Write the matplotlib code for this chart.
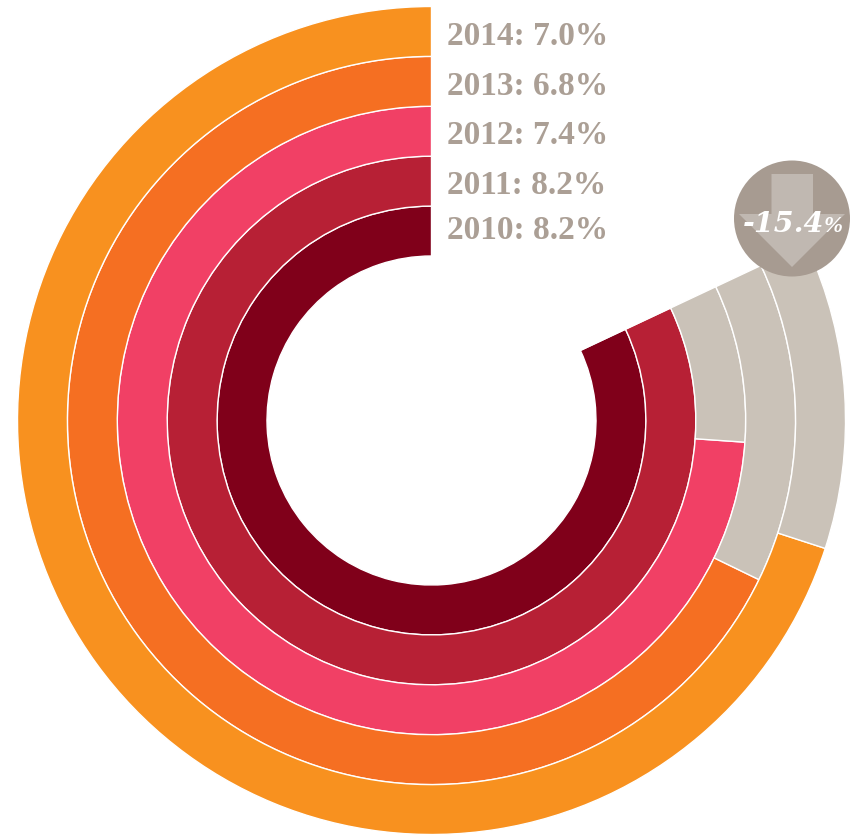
import matplotlib
matplotlib.use("Agg")
import matplotlib.pyplot as plt
from matplotlib.patches import Circle, Polygon

# Werte, innen nach aussen
years = ["2010", "2011", "2012", "2013", "2014"]
rates = [8.2, 8.2, 7.39, 6.78, 7.0]
colors = ["#80001a", "#b72035", "#f14065", "#f56f22", "#f8911f"]
change_label = "-15.4"
percent_sign = "%"

full_scale = 10.0  # 10% = ganzer Kreis
peak = max(rates)
grey = "#cac2b8"
text_grey = "#ab9f95"

fig = plt.figure(figsize=(8.52, 8.35), dpi=100)
ax = fig.add_axes([0, 0, 1, 1])

cx, cy = 431.5, 420.5  # Kreismitte in Pixeln
inner = 164.5
ring = 49.9
for i, (rate, col) in enumerate(zip(rates, colors)):
    outer = inner + ring * (i + 1)
    wedges, _ = ax.pie([rate, peak - rate, full_scale - peak],
                       colors=[col, grey, "none"],
                       radius=outer, startangle=90, counterclock=True,
                       wedgeprops=dict(width=ring, edgecolor="white", linewidth=1.0))
    wedges[-1].set_visible(False)

# Beschriftung oben rechts
label_y = [36.5, 86.5, 135.5, 185.5, 230.5]
for yr, rate, py in zip(reversed(years), reversed(rates), label_y):
    ax.text(447 - cx, cy - py, f"{yr}: {rate:.1f}%", color=text_grey, fontsize=24,
            family="Liberation Serif", weight="bold", va="center", ha="left")

# Kreis mit Pfeil
ax.add_patch(Circle((792 - cx, cy - 218.5), 58, color="#a79b91", lw=0, zorder=5))
arrow = [(771.5, 174), (813, 174), (813, 214), (845, 214), (792, 267), (739, 214), (771.5, 214)]
ax.add_patch(Polygon([(x - cx, cy - y) for x, y in arrow], color="#c0b8b1", lw=0, zorder=6))
ax.text(743 - cx, cy - 232, change_label, color="white", fontsize=20.5, zorder=7,
        family="DejaVu Serif", weight="bold", style="italic", va="baseline", ha="left")
ax.text(824 - cx, cy - 232, percent_sign, color="white", fontsize=16.5, zorder=7,
        family="Liberation Serif", weight="bold", style="italic", va="baseline", ha="left")

ax.set_xlim(-cx, 852 - cx)
ax.set_ylim(cy - 835, cy)
ax.set_aspect("equal")
ax.axis("off")

fig.savefig("out.png", dpi=100)
